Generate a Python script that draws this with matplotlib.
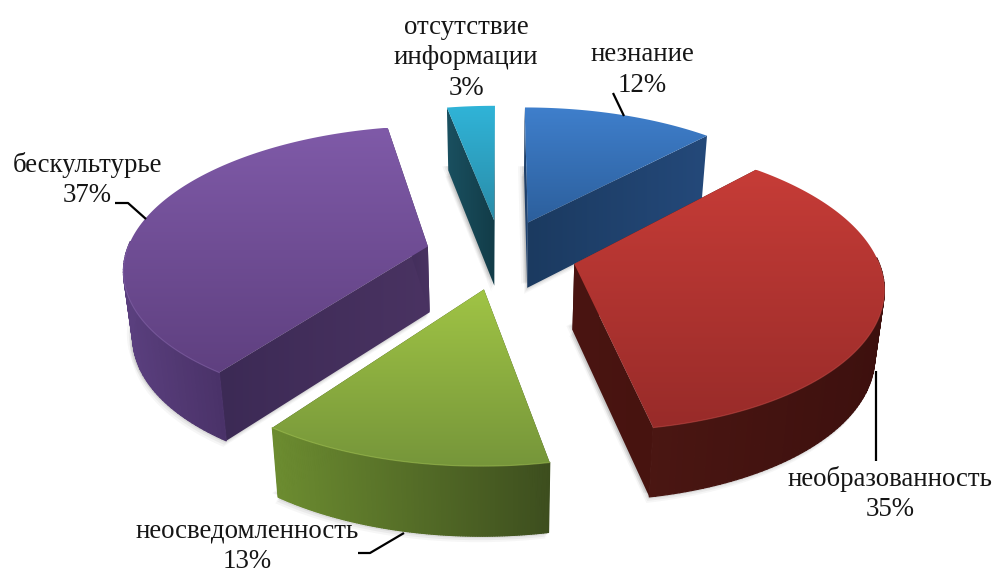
import numpy as np
import matplotlib
matplotlib.use("Agg")
import matplotlib.pyplot as plt
from matplotlib.collections import PolyCollection
from matplotlib.colors import to_rgb
from matplotlib.patches import Polygon

plt.rcParams['font.family'] = ['Liberation Serif', 'DejaVu Serif']

names = ["незнание", "необразованность", "неосведомленность", "бескультурье", "отсутствие\nинформации"]
values = [12, 35, 13, 37, 3]

# top colours (far end, near end), outer wall (left, right), cut wall (left, right)
top_colors = [("#3f7fcc", "#2c5f9c"), ("#c63c37", "#982b29"), ("#a0c445", "#76963a"),
              ("#7f5aa8", "#5f4080"), ("#30b4d8", "#2a8ca8")]
wall_colors = [("#22487a", "#22487a"), ("#4a1612", "#3d100e"), ("#6c8c30", "#3d4e1e"),
               ("#5a3f7e", "#4a3268"), ("#1a4f5f", "#123c48")]
cut_colors = [("#1b3a60", "#24497a"), ("#4a1512", "#47130f"), ("#3d4e1e", "#3d4e1e"),
              ("#3c2a55", "#4a3362"), ("#1a5060", "#123c48")]

# label text position and leader line per slice
label_pos = [(642, 70), (890, 494), (247, 546), (87, 180), (466, 58)]
leaders = [[(613, 93), (624, 116)],
           [(876, 371), (876, 461)],
           [(358, 553), (370, 553), (404, 533)],
           [(115, 203), (128, 203), (146, 219)],
           None]

# camera of the pie
X0, Y0 = 501, 254
A, B, K = 302, 140, 0.144
DEPTH = 66
EXPLODE = 0.25


def project(u, v, z=0.0):
    w = 1 + K * v
    x = X0 + A * u / w * (1 - 0.025 * z)
    return x, Y0 - B * v / w + z * DEPTH * w ** -0.3


def mix(c0, c1, t):
    c0, c1 = np.array(to_rgb(c0)), np.array(to_rgb(c1))
    return c0 + (c1 - c0) * np.clip(t, 0, 1)


def fill_gradient(ax, xs, ys, c0, c1, zorder, vertical):
    # gradient image clipped to the polygon
    poly = Polygon(np.c_[xs, ys], closed=True, fc="none", ec="none", zorder=zorder)
    ax.add_patch(poly)
    ramp = np.array([mix(c0, c1, s) for s in np.linspace(0, 1, 256)])
    ramp = ramp[:, None, :] if vertical else ramp[None, :, :]
    x1, x2 = xs.min(), xs.max()
    y1, y2 = ys.min(), ys.max()
    im = ax.imshow(ramp, extent=(x1, max(x2, x1 + 1), max(y2, y1 + 1), y1), aspect="auto",
                   zorder=zorder, interpolation="bilinear")
    im.set_clip_path(poly)


def cut_wall(ax, us, vs, c0, c1, zorder):
    x, y = project(us, vs)
    xb, yb = project(us, vs, 1.0)
    fill_gradient(ax, np.r_[x, xb[::-1]], np.r_[y, yb[::-1]], c0, c1, zorder, False)


def outer_wall(ax, us, vs, back, c0, c1, zorder):
    # separate quads, so the silhouette closes where the wall turns away
    # the back part starts a bit lower, its stroke stays under the top face
    x, y = project(us, vs, np.where(back, 0.04, 0.0))
    xb, yb = project(us, vs, 1.0)
    span = max(x.max() - x.min(), 1)
    quads, cols = [], []
    for j in range(len(x) - 1):
        quads.append([(x[j], y[j]), (x[j + 1], y[j + 1]), (xb[j + 1], yb[j + 1]), (xb[j], yb[j])])
        cols.append(mix(c0, c1, ((x[j] + x[j + 1]) / 2 - x.min()) / span))
    ax.add_collection(PolyCollection(quads, facecolors=cols, edgecolors=cols, linewidths=0.9, zorder=zorder))


fig = plt.figure(figsize=(9.95, 5.71), dpi=100)
ax = fig.add_axes([0, 0, 1, 1])

angles = np.cumsum([0] + values) * 3.6
slices = []
for i, val in enumerate(values):
    a0, a1 = np.radians(angles[i]), np.radians(angles[i + 1])
    mid = (a0 + a1) / 2
    slices.append((EXPLODE * np.cos(mid), i, a0, a1, EXPLODE * np.sin(mid)))

# back slices first
slices.sort(key=lambda s: -s[0])
z = 2
for ov, i, a0, a1, ou in slices:
    th = np.linspace(a0, a1, 120)
    au, av = ou + np.sin(th), ov + np.cos(th)

    # soft shadow round the base
    bx, by = project(np.r_[ou, au], np.r_[ov, av], 1.0)
    tx, ty = project(np.r_[ou, au], np.r_[ov, av])
    for off, alpha in [(6, 0.05), (4, 0.07), (2, 0.1)]:
        ax.add_patch(Polygon(np.c_[bx - off / 2, by + off], closed=True, fc="#555555", ec="none", alpha=alpha, zorder=1))
        ax.add_patch(Polygon(np.c_[bx - off, by - 4], closed=True, fc="#555555", ec="none", alpha=alpha, zorder=1))

    # cut walls
    t = np.array([0.0, 1.0])
    for a in (a0, a1):
        cut_wall(ax, ou + t * np.sin(a), ov + t * np.cos(a), cut_colors[i][0], cut_colors[i][1], z)
    z += 1

    # outer wall, started behind the top so the side stays closed
    behind = np.cos(th) < 0.3
    if behind.sum() > 1:
        outer_wall(ax, au[behind], av[behind], np.cos(th[behind]) > 0.05,
                   wall_colors[i][0], wall_colors[i][1], z)
    z += 1

    # top face
    fill_gradient(ax, tx, ty, top_colors[i][0], top_colors[i][1], z, True)
    z += 1

    # light rim along the front edge
    front = np.cos(th) < 0.03
    if front.sum() > 1:
        rx, ry = project(au[front], av[front])
        ax.plot(rx, ry, color=mix(top_colors[i][0], "#ffffff", 0.1), lw=0.8, alpha=0.5, zorder=z)
    z += 1

for i, name in enumerate(names):
    ax.text(label_pos[i][0], label_pos[i][1], f"{name}\n{values[i]}%", ha="center", va="center",
            fontsize=19.4, color="#151515", linespacing=1.28, zorder=50)
    if leaders[i]:
        lx, ly = zip(*leaders[i])
        ax.plot(lx, ly, color="black", lw=1.6, zorder=40, solid_capstyle="butt")

ax.set_xlim(0, 995)
ax.set_ylim(571, 0)
ax.axis("off")
fig.savefig("out.png", dpi=100, facecolor="white")
